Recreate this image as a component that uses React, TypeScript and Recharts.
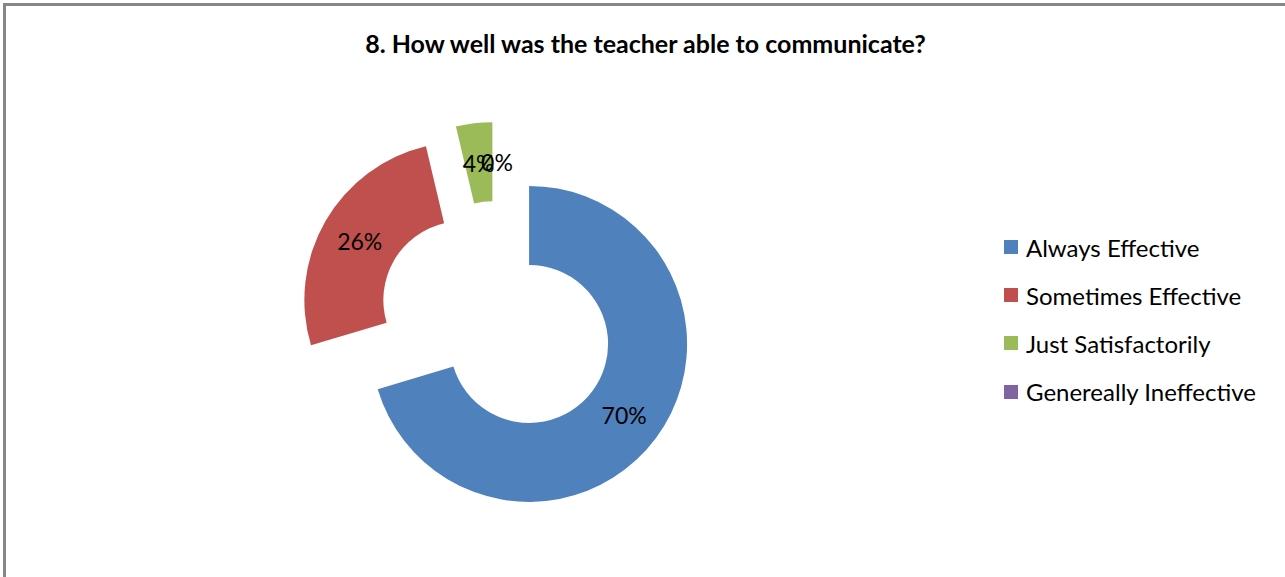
import { PieChart, Pie, Cell, Legend } from "recharts";

const categories = ["Always Effective", "Sometimes Effective", "Just Satisfactorily", "Genereally Ineffective"];
const responses = [19, 7, 1, 0];
const colors = ["#4F81BD", "#C0504D", "#9BBB59", "#8064A2"];
const title = "8. How well was the teacher able to communicate?";

const data = categories.map((name, i) => ({ name, value: responses[i] }));
const total = responses.reduce((a, b) => a + b, 0);

const FONT = "Lato, 'Open Sans', sans-serif";
const CX = 497;
const CY = 320;
const EXPLODE = 40;
const R_IN = 79;
const R_OUT = 158;
const RAD = Math.PI / 180;

// each slice is pulled out along its own middle angle (clockwise from 12 o'clock)
const offsets = responses.map((v, i) => {
  const before = responses.slice(0, i).reduce((a, b) => a + b, 0);
  const theta = ((before + v / 2) / total) * 360 * RAD;
  return { dx: EXPLODE * Math.sin(theta), dy: -EXPLODE * Math.cos(theta) };
});

const sliceLabel = (only: number) => (p: any) => {
  if (p.index !== only) return null;
  const r = (p.innerRadius + p.outerRadius) / 2;
  const x = p.cx + r * Math.cos(-p.midAngle * RAD);
  const y = p.cy + r * Math.sin(-p.midAngle * RAD);
  return (
    <text x={x} y={y} textAnchor="middle" dominantBaseline="central" fill="#000" fontSize={23} fontFamily={FONT}>
      {`${Math.round(p.percent * 100)}%`}
    </text>
  );
};

const LegendBox = () => (
  <div style={{ fontFamily: FONT, fontSize: 24, color: "#000" }}>
    {categories.map((c, i) => (
      <div key={c} style={{ display: "flex", alignItems: "center", height: 48.2 }}>
        <span style={{ width: 14, height: 14, background: colors[i], marginRight: 8, display: "inline-block" }} />
        <span>{c}</span>
      </div>
    ))}
  </div>
);

export default function App() {
  return (
    <div style={{ position: "absolute", left: 0, top: 0, width: 1285, height: 577, overflow: "hidden", background: "#fff" }}>
      <div
        style={{
          position: "absolute", left: 3, top: 3, width: 1282, height: 574, boxSizing: "border-box",
          borderTop: "3px solid #878787", borderLeft: "3px solid #878787",
        }}
      />
      <div
        style={{
          position: "absolute", left: 0, top: 28, width: 1291, textAlign: "center",
          fontFamily: FONT, fontWeight: 700, fontSize: 25, color: "#000",
        }}
      >
        {title}
      </div>
      <div style={{ position: "absolute", left: 0, top: 0 }}>
        <PieChart width={1285} height={577} margin={{ top: 0, right: 0, bottom: 0, left: 0 }}>
          {responses.map((_, i) => (
            <Pie
              key={i}
              data={data}
              dataKey="value"
              nameKey="name"
              cx={CX + offsets[i].dx}
              cy={CY + offsets[i].dy}
              innerRadius={R_IN}
              outerRadius={R_OUT}
              startAngle={90}
              endAngle={-270}
              stroke="none"
              labelLine={false}
              label={sliceLabel(i)}
              isAnimationActive={false}
            >
              {data.map((d, j) => (
                <Cell key={d.name} fill={j === i ? colors[j] : "none"} stroke="none" />
              ))}
            </Pie>
          ))}
          <Legend content={<LegendBox />} wrapperStyle={{ left: 1004, top: 223, width: 281 }} />
        </PieChart>
      </div>
    </div>
  );
}
